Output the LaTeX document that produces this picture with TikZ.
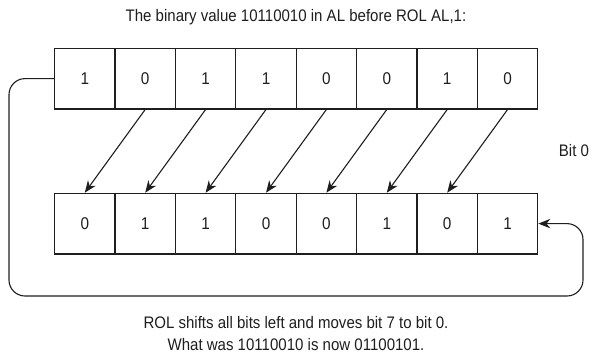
\documentclass[tikz,border=0pt]{standalone}
\usepackage{fontspec}
\setmainfont[FakeStretch=0.9]{Liberation Sans}
\usetikzlibrary{arrows.meta}
\definecolor{ink}{HTML}{1E1E1E}
\begin{document}
\begin{tikzpicture}[x=1pt,y=-1pt,color=ink,
  cell/.style={draw,line width=1.1pt,minimum width=60.4pt,minimum height=60.7pt,inner sep=0pt,font=\fontsize{17}{20}\selectfont},
  arr/.style={line width=1.1pt,-{Stealth[length=12pt,width=9.5pt]}},
  lbl/.style={font=\fontsize{16.7}{22}\selectfont,align=center,inner sep=0pt}]
\useasboundingbox (0,0) rectangle (593,354);
\foreach \v [count=\i] in {1,0,1,1,0,0,1,0}{
  \node[cell] (t\i) at ({54.6+30.2+60.4*(\i-1)},78.6) {\v};
}
\foreach \v [count=\i] in {0,1,1,0,0,1,0,1}{
  \node[cell] (b\i) at ({54.6+30.2+60.4*(\i-1)},223.6) {\v};
}
\foreach \i [remember=\i as \j (initially 1)] in {2,...,8}{
  \draw[arr] (t\i.south) -- (b\j.north);
}
\node[lbl] (title) at (296,17) {The binary value 10110010 in AL before ROL AL,1:};
\node[lbl] (bit0) at (574,151) {Bit 0};
\node[lbl] (caption) at (296,334) {ROL shifts all bits left and moves bit 7 to bit 0.\\What was 10110010 is now 01100101.};
\coordinate (L) at (9,296);
\coordinate (R) at (583,296);
\draw[arr,rounded corners=16pt] (t1.west) -| (L) -- (R) |- (b8.east);
\end{tikzpicture}
\end{document}
